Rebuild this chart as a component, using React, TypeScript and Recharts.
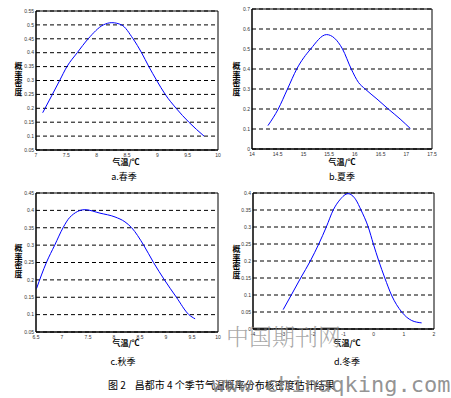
import React from 'react';
import { LineChart, Line, XAxis, YAxis, CartesianGrid, ReferenceArea } from 'recharts';

// 春季
const springTemp = [7.11, 7.27, 7.39, 7.51, 7.68, 7.86, 8.11, 8.25, 8.41, 8.6, 8.74, 8.86, 8.99, 9.13, 9.31, 9.52, 9.77];
const springDensity = [0.184, 0.25, 0.3, 0.35, 0.4, 0.45, 0.5, 0.508, 0.5, 0.45, 0.4, 0.35, 0.3, 0.25, 0.2, 0.15, 0.1];
// 夏季
const summerTemp = [14.31, 14.51, 14.69, 14.87, 15.14, 15.45, 15.76, 15.93, 16.07, 16.2, 16.43, 16.65, 16.88, 17.08];
const summerDensity = [0.117, 0.2, 0.3, 0.4, 0.5, 0.572, 0.5, 0.4, 0.333, 0.3, 0.25, 0.2, 0.15, 0.102];
// 秋季
const autumnTemp = [6.51, 6.7, 6.86, 7.02, 7.15, 7.44, 7.73, 8.02, 8.21, 8.34, 8.57, 8.76, 8.97, 9.2, 9.44, 9.56];
const autumnDensity = [0.175, 0.25, 0.3, 0.35, 0.38, 0.402, 0.392, 0.381, 0.367, 0.35, 0.3, 0.25, 0.2, 0.15, 0.1, 0.088];
// 冬季
const winterTemp = [-3.0, -2.73, -2.42, -2.1, -1.82, -1.57, -1.34, -1.12, -0.85, -0.59, -0.42, -0.18, -0.01, 0.17, 0.37, 0.59, 0.93, 1.26, 1.59];
const winterDensity = [0.057, 0.1, 0.15, 0.2, 0.25, 0.3, 0.35, 0.38, 0.398, 0.38, 0.35, 0.3, 0.25, 0.2, 0.15, 0.1, 0.05, 0.025, 0.018];

const springXTicks = [7, 7.5, 8, 8.5, 9, 9.5, 10];
const springYTicks = [0.05, 0.1, 0.15, 0.2, 0.25, 0.3, 0.35, 0.4, 0.45, 0.5, 0.55];
const summerXTicks = [14, 14.5, 15, 15.5, 16, 16.5, 17, 17.5];
const summerYTicks = [0, 0.1, 0.2, 0.3, 0.4, 0.5, 0.6, 0.7];
const autumnXTicks = [6.5, 7, 7.5, 8, 8.5, 9, 9.5, 10];
const autumnYTicks = [0.05, 0.1, 0.15, 0.2, 0.25, 0.3, 0.35, 0.4, 0.45];
const winterXTicks = [-4, -3, -2, -1, 0, 1, 2];
const winterYTicks = [0, 0.05, 0.1, 0.15, 0.2, 0.25, 0.3, 0.35, 0.4];

const CJK = '"Noto Sans CJK SC", "Noto Sans", sans-serif';

interface PanelProps {
  temp: number[];
  density: number[];
  xTicks: number[];
  yTicks: number[];
  left: number;
  top: number;
  width: number;
  height: number;
  yAxisWidth: number;
  marginTop: number;
  marginRight: number;
}

const Panel: React.FC<PanelProps> = ({ temp, density, xTicks, yTicks, left, top, width, height, yAxisWidth, marginTop, marginRight }) => {
  const data = temp.map((t, i) => ({ t, d: density[i] }));
  const xMin = xTicks[0];
  const xMax = xTicks[xTicks.length - 1];
  const yMin = yTicks[0];
  const yMax = yTicks[yTicks.length - 1];
  const tickStyle = { fontSize: 5, fill: '#333', fontFamily: 'Arial, sans-serif' };
  return (
    <div style={{ position: 'absolute', left, top }}>
      <LineChart width={width} height={height} data={data} margin={{ top: marginTop, right: marginRight, bottom: 0, left: 0 }}>
        <CartesianGrid horizontal vertical={false} stroke="#000" strokeDasharray="4 3" />
        <XAxis
          dataKey="t"
          type="number"
          domain={[xMin, xMax]}
          ticks={xTicks}
          height={15}
          tick={tickStyle}
          tickLine={false}
          tickSize={2}
          tickMargin={1}
          stroke="#000"
          interval={0}
        />
        <YAxis
          type="number"
          domain={[yMin, yMax]}
          ticks={yTicks}
          width={yAxisWidth}
          tick={tickStyle}
          tickLine={false}
          tickSize={1}
          tickMargin={1}
          stroke="#000"
          interval={0}
        />
        <ReferenceArea x1={xMin} x2={xMax} y1={yMin} y2={yMax} fill="none" stroke="#000" strokeWidth={1} fillOpacity={0} />
        <Line type="monotone" dataKey="d" stroke="#0000ff" strokeWidth={1} dot={false} isAnimationActive={false} />
      </LineChart>
    </div>
  );
};

// 纵轴标题：四个字竖排
const YLabel: React.FC<{ x: number; y: number }> = ({ x, y }) => (
  <div
    style={{
      position: 'absolute',
      left: x - 5,
      top: y - 17,
      width: 10,
      height: 34,
      fontSize: 8,
      lineHeight: '10px',
      fontWeight: 'bold',
      fontFamily: CJK,
      writingMode: 'vertical-rl',
      textOrientation: 'upright',
      letterSpacing: 0.5,
      color: '#000',
    }}
  >
    概率密度
  </div>
);

const Text: React.FC<{ x: number; y: number; size: number; bold?: boolean; children: React.ReactNode }> = ({ x, y, size, bold, children }) => (
  <div
    style={{
      position: 'absolute',
      left: x - 60,
      top: y - size * 0.65,
      width: 120,
      textAlign: 'center',
      fontSize: size,
      lineHeight: `${size * 1.3}px`,
      fontWeight: bold ? 'bold' : 'normal',
      fontFamily: CJK,
      color: '#000',
      whiteSpace: 'nowrap',
    }}
  >
    {children}
  </div>
);

export default function App() {
  return (
    <div style={{ position: 'absolute', left: 0, top: 0, width: 451, height: 398, background: '#fff', overflow: 'hidden' }}>
      <Panel temp={springTemp} density={springDensity} xTicks={springXTicks} yTicks={springYTicks}
        left={0} top={0} width={225} height={165} yAxisWidth={36} marginTop={11} marginRight={7} />
      <Panel temp={summerTemp} density={summerDensity} xTicks={summerXTicks} yTicks={summerYTicks}
        left={225} top={0} width={226} height={164} yAxisWidth={27} marginTop={9} marginRight={19} />
      <Panel temp={autumnTemp} density={autumnDensity} xTicks={autumnXTicks} yTicks={autumnYTicks}
        left={0} top={182} width={225} height={165} yAxisWidth={36} marginTop={11} marginRight={7} />
      <Panel temp={winterTemp} density={winterDensity} xTicks={winterXTicks} yTicks={winterYTicks}
        left={225} top={182} width={226} height={162} yAxisWidth={28} marginTop={11} marginRight={17} />

      <YLabel x={18} y={79} />
      <YLabel x={236} y={79} />
      <YLabel x={18} y={261} />
      <YLabel x={236} y={262} />

      <Text x={126} y={162} size={8} bold>气温/℃</Text>
      <Text x={124} y={177} size={9}>a.春季</Text>
      <Text x={342} y={162} size={8} bold>气温/℃</Text>
      <Text x={342} y={177} size={9}>b.夏季</Text>
      <Text x={126} y={343} size={8} bold>气温/℃</Text>
      <Text x={123} y={362} size={9}>c.秋季</Text>
      <Text x={347} y={343} size={8} bold>气温/℃</Text>
      <Text x={347} y={362} size={9}>d.冬季</Text>

      <div style={{ position: 'absolute', left: 108, top: 378, fontSize: 10, lineHeight: '13px', fontFamily: CJK, color: '#000', whiteSpace: 'nowrap' }}>
        图 2&nbsp;&nbsp;&nbsp;&nbsp;昌都市 4 个季节气温概率分布核密度估计结果
      </div>

      <div style={{ position: 'absolute', left: 226, top: 322, fontSize: 23, lineHeight: '28px', fontFamily: '"Noto Serif CJK SC", "Noto Sans CJK SC", serif', fontWeight: 300, color: 'rgba(140,140,140,0.75)', whiteSpace: 'nowrap' }}>
        中国期刊网
      </div>
      <div style={{ position: 'absolute', left: 212, top: 372, fontSize: 22, lineHeight: '26px', fontFamily: '"DejaVu Sans Mono", monospace', color: 'rgba(120,120,120,0.8)', whiteSpace: 'nowrap' }}>
        www.chinaqking.com
      </div>
    </div>
  );
}
